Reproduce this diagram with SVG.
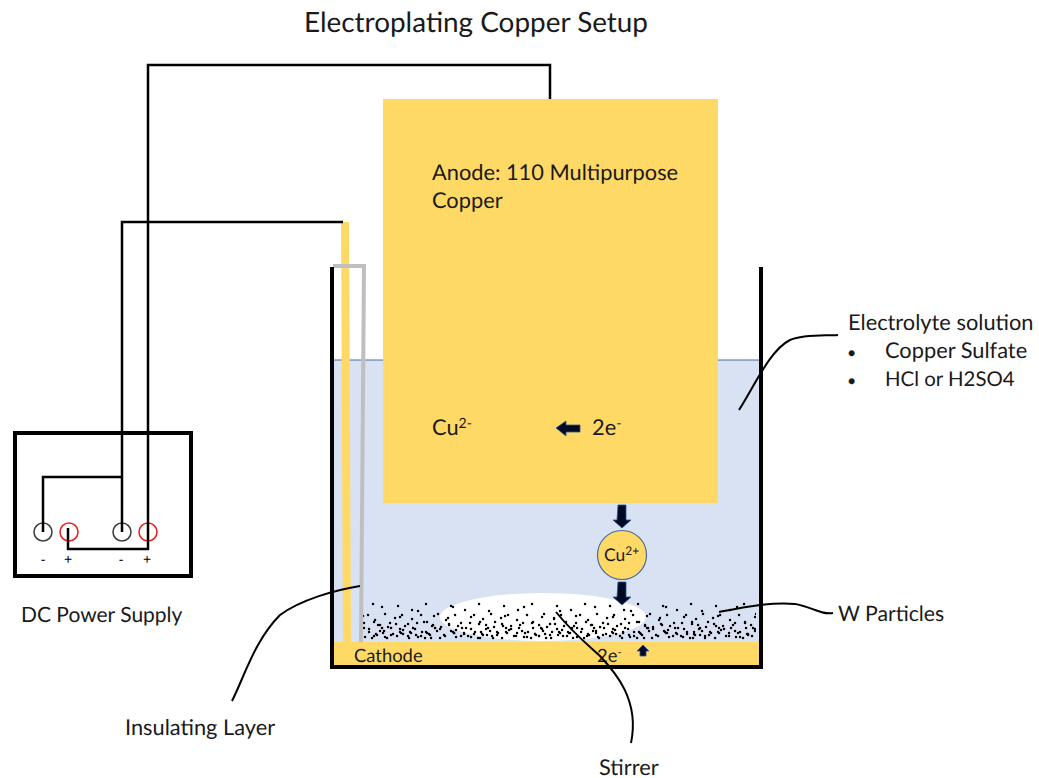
<svg xmlns="http://www.w3.org/2000/svg" width="1039" height="778" viewBox="0 0 1039 778">
<style>
text{font-family:"Lato","Open Sans","Liberation Sans",sans-serif;fill:#1a1a1a;font-size:21.800px;text-rendering:geometricPrecision}
.s{font-size:14px}
.k{font-family:"Liberation Sans",sans-serif;font-size:14px;fill:#000}
.m{font-size:18.400px}
.w{fill:none;stroke:#000;stroke-width:2.5}
.c{fill:none;stroke:#000;stroke-width:2}
.b{fill:none;stroke:#000;stroke-width:4}
.y{fill:#ffd966}
.a{fill:#000a24;stroke:#2f5597;stroke-width:.8}
.t{fill:none;stroke:#404040;stroke-width:1.6}
.r{fill:none;stroke:#ee2222;stroke-width:1.6}
.d{fill:none;stroke:#000;stroke-width:2.400;stroke-linecap:round}
</style>
<defs>
<pattern id="p1" width="53" height="40" patternUnits="userSpaceOnUse" x="362" y="601">
<path class="d" d="M11 3h.1M36 5h.1M50 9h.1M6 14h.1M23 13h.1M40 14h.1M2 22h.1M12 21h.1M18 24h.1M26 26h.1M34 23h.1M43 25h.1M51 27h.1M7 31h.1M14 33h.1M15 34h.1M22 30h.1M29 34h.1M38 31h.1M39 32h.1M46 35h.1M3 36h.1M33 17h.1M20 27h.1M41 29h.1M10 37h.1M25 37h.1M49 32h.1"/>
</pattern>
<pattern id="p2" width="71" height="40" patternUnits="userSpaceOnUse" x="366" y="601">
<path class="d" d="M16 6h.1M52 10h.1M9 19h.1M34 16h.1M46 18h.1M58 21h.1M68 15h.1M3 28h.1M14 30h.1M25 27h.1M37 33h.1M49 28h.1M60 31h.1M61 32h.1M69 27h.1M8 35h.1M19 36h.1M31 35h.1M43 37h.1M55 35h.1M65 37h.1M12 24h.1M42 23h.1M24 22h.1M66 25h.1M44 31h.1M17 32h.1M27 33h.1M50 34h.1M34 28h.1"/>
</pattern>
</defs>
<g id="title"><text x="476" y="32" text-anchor="middle" style="font-size:27.900px">Electroplating Copper Setup</text></g>
<g id="electrolyte">
<rect x="333" y="360" width="427" height="283" fill="#d9e2f3"/>
<path d="M333 360H760" stroke="#4a6a9a" stroke-width="1" fill="none"/>
</g>
<g id="particles">
<ellipse cx="543" cy="617" rx="103" ry="24" fill="#fff"/>
<rect x="362" y="601" width="394" height="40" fill="url(#p1)"/>
<rect x="362" y="601" width="394" height="40" fill="url(#p2)"/>
</g>
<g id="anode">
<rect class="y" x="383" y="99" width="335" height="404"/>
<text x="432" y="180">Anode: 110 Multipurpose</text>
<text x="432" y="208">Copper</text>
<text x="432" y="435">Cu<tspan class="s" dy="-7">2-</tspan></text>
<text x="592" y="435">2e<tspan class="s" dy="-7">-</tspan></text>
<path class="a" d="M556 428l10-7v4h14v7h-14v4z"/>
</g>
<g id="cathode">
<rect class="y" x="333" y="642" width="427" height="24"/>
<path class="y" d="M341 222h8l2 420h-8z"/>
<text x="354" y="662" class="m">Cathode</text>
<text x="597" y="662" class="m">2e<tspan style="font-size:11px" dy="-6">-</tspan></text>
<path class="a" d="M643 645l6 6h-3v5h-6v-5h-3z"/>
</g>
<g id="insulating-layer">
<path d="M333 266H364L361 642" fill="none" stroke="#bfbfbf" stroke-width="4"/>
</g>
<g id="beaker">
<path class="b" d="M332 267V667H761V267"/>
</g>
<g id="ion">
<path class="a" d="M618 505h8v15h5l-9 8-9-8h4z"/>
<circle cx="622" cy="555" r="24.500" fill="#ffd966" stroke="#4a6a9a" stroke-width="1.200"/>
<text x="604" y="561" style="font-size:17.500px">Cu<tspan style="font-size:12px" dy="-6">2+</tspan></text>
<path class="a" d="M618 582h8v15h5l-9 8-9-8h4z"/>
</g>
<g id="power-supply">
<rect x="15" y="433" width="176" height="143" class="b"/>
<circle class="t" cx="43" cy="532" r="9"/>
<circle class="r" cx="69" cy="532" r="9"/>
<circle class="t" cx="122" cy="532" r="9"/>
<circle class="r" cx="148" cy="532" r="9"/>
<text x="43" y="564" text-anchor="middle" class="k">-</text>
<text x="68" y="564" text-anchor="middle" class="k">+</text>
<text x="121" y="564" text-anchor="middle" class="k">-</text>
<text x="147" y="564" text-anchor="middle" class="k">+</text>
<text x="21" y="622" style="font-size:21px">DC Power Supply</text>
</g>
<g id="connectors">
<path class="w" d="M550 99V65H148V549H68V528"/>
<path class="w" d="M343 222H122V532"/>
<path class="w" d="M122 477H43V532"/>
<path class="c" d="M232 701C245 675 255 640 280 615C300 600 335 590 360 586"/>
<path class="c" d="M739 410C755 385 770 350 790 340C805 334 825 336 838 335"/>
<path class="c" d="M719 612C745 607 770 602 795 604C810 606 820 615 833 613"/>
<path class="c" d="M556 612C572 632 588 645 600 656C615 672 640 700 631 743"/>
</g>
<g id="labels">
<text x="848" y="330">Electrolyte solution</text>
<text x="847" y="358" style="font-size:16px">•</text>
<text x="885" y="358">Copper Sulfate</text>
<text x="847" y="386" style="font-size:16px">•</text>
<text x="885" y="386" style="font-size:20.400px">HCl or H2SO4</text>
<text x="838" y="621" style="font-size:21.200px">W Particles</text>
<text x="125" y="735">Insulating Layer</text>
<text x="599" y="775">Stirrer</text>
</g>
</svg>
